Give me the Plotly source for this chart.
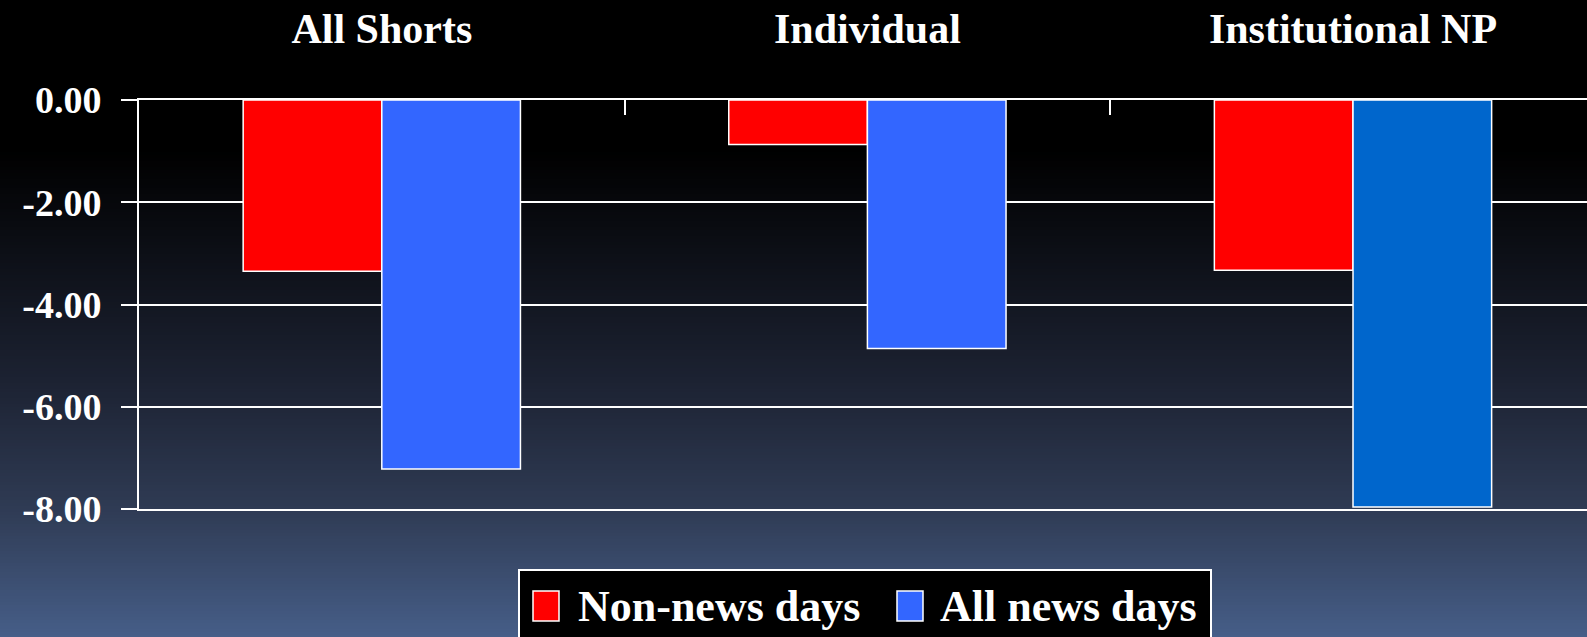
import plotly.graph_objects as go

# ---- data ----
categories = ["All Shorts", "Individual", "Institutional NP"]
series_names = ["Non-news days", "All news days"]
non_news = [-3.35, -0.87, -3.33]
all_news = [-7.22, -4.86, -7.96]
red_colors = ["#FF0000", "#FF0000", "#FF0000"]
blue_colors = ["#3366FF", "#3366FF", "#0066CC"]
y_tickvals = [0, -2, -4, -6, -8]
y_ticktext = ["0.00", "-2.00", "-4.00", "-6.00", "-8.00"]

# ---- layout geometry (pixels) ----
W, H = 1587, 637
ML, MT, MB, MR = 139, 100, 128, 0
PW, PH = W - ML - MR, H - MT - MB

def px_x(x):
    return (x - ML) / PW

def px_y(y):
    return (H - MB - y) / PH

FONT = "Liberation Serif"

fig = go.Figure()
fig.add_trace(go.Bar(x=categories, y=non_news, name=series_names[0],
                     marker=dict(color=red_colors, line=dict(color="white", width=1.5))))
fig.add_trace(go.Bar(x=categories, y=all_news, name=series_names[1],
                     marker=dict(color=blue_colors, line=dict(color="white", width=1.5))))

# background gradient (horizontal stripes of colour)
stops = [(0, (0, 0, 0)), (150, (0, 0, 0)), (380, (28, 34, 50)),
         (509, (47, 59, 84)), (637, (70, 94, 136))]

def col_at(y):
    for (y0, c0), (y1, c1) in zip(stops[:-1], stops[1:]):
        if y0 <= y <= y1:
            t = (y - y0) / (y1 - y0) if y1 > y0 else 0
            return "rgb(%d,%d,%d)" % tuple(round(a + (b - a) * t) for a, b in zip(c0, c1))
    return "rgb(70,94,136)"

shapes = []
step = 3
for y in range(140, H, step):
    shapes.append(dict(type="rect", xref="paper", yref="paper", layer="below",
                       x0=px_x(0), x1=px_x(W), y0=px_y(y + step), y1=px_y(y),
                       fillcolor=col_at(y + step / 2), line=dict(width=0)))

# legend box (manual)
shapes.append(dict(type="rect", xref="paper", yref="paper", layer="above",
                   x0=px_x(519), x1=px_x(1211), y0=px_y(645), y1=px_y(570),
                   fillcolor="black", line=dict(color="white", width=2)))
swatches = [(533, 559, "#FF0000"), (897, 923, "#3366FF")]
for x0, x1, c in swatches:
    shapes.append(dict(type="rect", xref="paper", yref="paper", layer="above",
                       x0=px_x(x0), x1=px_x(x1), y0=px_y(621), y1=px_y(591),
                       fillcolor=c, line=dict(color="white", width=1.5)))

annotations = []
for name, xl in zip(series_names, [576, 938]):
    annotations.append(dict(text=name, xref="paper", yref="paper", x=px_x(xl), y=px_y(606),
                            xanchor="left", yanchor="middle", showarrow=False,
                            font=dict(family=FONT, size=44, color="white", weight="bold")))

fig.update_layout(
    width=W, height=H,
    margin=dict(l=ML, r=MR, t=MT, b=MB, pad=0),
    paper_bgcolor="black",
    plot_bgcolor="rgba(0,0,0,0)",
    barmode="group", bargap=0.429, bargroupgap=0,
    showlegend=False,
    shapes=shapes, annotations=annotations,
    xaxis=dict(type="category", side="top", range=[-0.5, -0.5 + PW / 485.6],
               showline=True, mirror=True, linecolor="white", linewidth=2,
               ticks="inside", tickson="boundaries", ticklen=15, tickwidth=2, tickcolor="white",
               showgrid=False, ticklabelstandoff=38,
               tickfont=dict(family=FONT, size=42, color="white", weight="bold")),
    yaxis=dict(range=[-8, 0], tickvals=y_tickvals, ticktext=y_ticktext,
               showline=True, linecolor="white", linewidth=2,
               ticks="outside", ticklen=16, tickwidth=2, tickcolor="white",
               showgrid=True, gridcolor="white", gridwidth=2, zeroline=False,
               ticklabelstandoff=12,
               tickfont=dict(family=FONT, size=38, color="white", weight="bold")),
)

fig.write_html("out.html")
